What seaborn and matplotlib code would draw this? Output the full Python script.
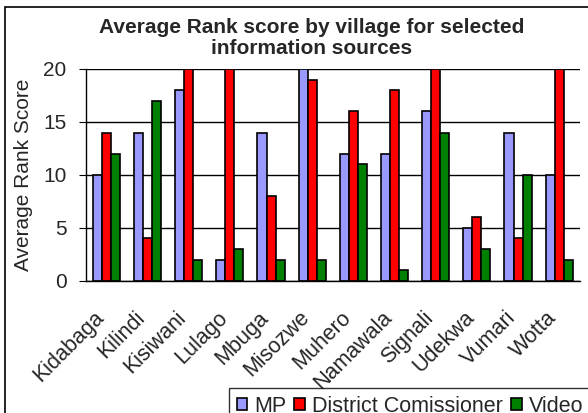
import pandas as pd
import matplotlib.pyplot as plt
import matplotlib.transforms as mtransforms
import seaborn as sns
from matplotlib.patches import Rectangle

# chart values
villages = ["Kidabaga", "Kilindi", "Kisiwani", "Lulago", "Mbuga", "Misozwe",
            "Muhero", "Namawala", "Signali", "Udekwa", "Vumari", "Wotta"]
sources = ["MP", "District Comissioner", "Video"]
mp = [10, 14, 18, 2, 14, 20, 12, 12, 16, 5, 14, 10]
district = [14, 4, 20, 20, 8, 19, 16, 18, 20, 6, 4, 20]
video = [12, 17, 2, 3, 2, 2, 11, 1, 14, 3, 10, 2]

df = pd.DataFrame({"Village": villages, "MP": mp,
                   "District Comissioner": district, "Video": video})
df_long = df.melt(id_vars="Village", var_name="Source", value_name="Score")

sns.set_style("white")
plt.rcParams["font.family"] = ["Liberation Sans", "DejaVu Sans"]

fig = plt.figure(figsize=(5.88, 4.13), dpi=100)
ax = fig.add_axes([0.146, 0.320, 0.840, 0.513])

palette = {"MP": "#9999FF", "District Comissioner": "#FF0000", "Video": "#008000"}
sns.barplot(data=df_long, x="Village", y="Score", hue="Source", order=villages,
            hue_order=sources, palette=palette, width=0.66, edgecolor="black",
            linewidth=1.2, saturation=1, ax=ax, legend=True)

ax.set_ylim(0, 20)
ax.set_xlim(-0.5, len(villages) - 0.5)
ax.set_yticks([0, 5, 10, 15, 20])
ax.yaxis.grid(True, color="black", linewidth=1)
ax.set_axisbelow(True)
for s in ["top", "right"]:
    ax.spines[s].set_visible(False)
for s in ["left", "bottom"]:
    ax.spines[s].set_color("black")
    ax.spines[s].set_linewidth(1)

# Excel-style tick marks between the categories
ax.set_xticks([i - 0.5 for i in range(len(villages) + 1)], minor=True)
ax.tick_params(axis="x", which="major", length=0, pad=19)
ax.tick_params(axis="x", which="minor", length=5, color="black", direction="out")
ax.tick_params(axis="y", length=5, color="black", direction="out", left=True,
               labelsize=15, pad=9)
shift = mtransforms.ScaledTranslation(-13 / 100, 0, fig.dpi_scale_trans)
for lbl in ax.get_xticklabels():
    lbl.set_rotation(45)
    lbl.set_ha("right")
    lbl.set_rotation_mode("anchor")
    lbl.set_fontsize(15.5)
    lbl.set_transform(lbl.get_transform() + shift)

ax.set_xlabel("")
ax.set_ylabel("Average Rank Score", fontsize=15, labelpad=7)
fig.text(0.53, 0.908, "Average Rank score by village for selected\ninformation sources",
         ha="center", va="center", fontsize=15, fontweight="bold", linespacing=1.15)

ax.get_legend().remove()
handles, labels = ax.get_legend_handles_labels()
leg = fig.legend(handles, labels, loc="upper left", bbox_to_anchor=(229 / 588, 1 - 388 / 413),
                 ncol=3, fontsize=15.5, frameon=True, fancybox=False,
                 handlelength=0.5, handleheight=0.5, handletextpad=0.3,
                 columnspacing=0.4, borderpad=0.35, borderaxespad=0)
leg.get_frame().set_edgecolor("black")
leg.get_frame().set_linewidth(1)

# chart area border
fig.patches.append(Rectangle((5 / 588, -0.2), 1.2, 1.2 - 7 / 413,
                             transform=fig.transFigure, fill=False,
                             edgecolor="black", linewidth=1.2))

fig.savefig("out.png", dpi=100)
